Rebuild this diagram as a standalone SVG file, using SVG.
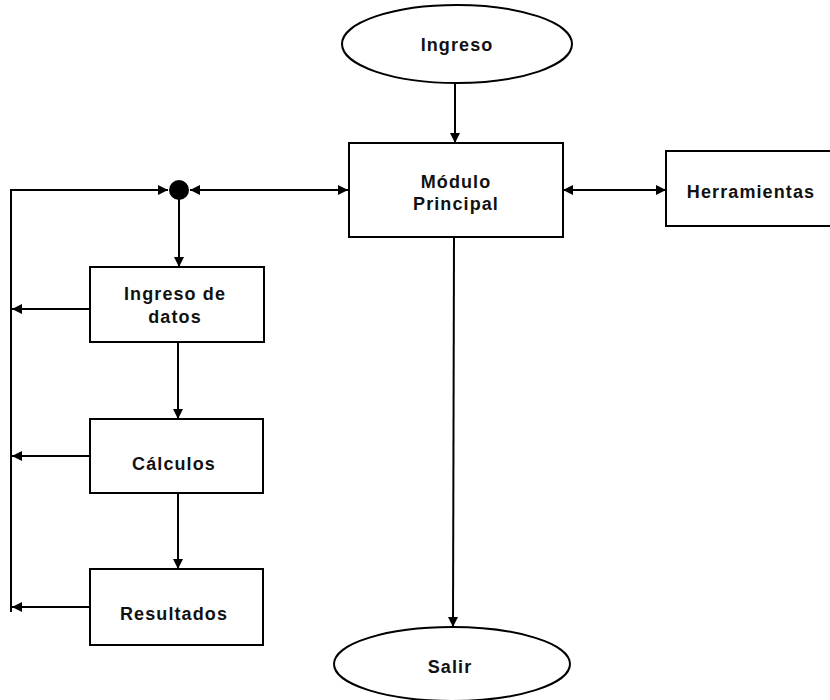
<svg xmlns="http://www.w3.org/2000/svg" width="830" height="700" viewBox="0 0 830 700">
  <defs>
    <marker id="arrow" markerUnits="userSpaceOnUse" markerWidth="11" markerHeight="11" refX="10" refY="5" orient="auto-start-reverse">
      <path d="M0,0 L10,5 L0,10 z" fill="#000"/>
    </marker>
    <style>
      .shape { fill: #fff; stroke: #000; stroke-width: 2; }
      .line { fill: none; stroke: #000; stroke-width: 2; }
      .lbl { font-family: "Liberation Sans", Arial, sans-serif; font-size: 18px; font-weight: bold; letter-spacing: 1.1px; text-anchor: middle; fill: #111; }
    </style>
  </defs>
  <rect width="830" height="700" fill="#fff"/>

  <!-- connectors -->
  <g id="connectors">
    <line class="line" x1="455" y1="83" x2="455" y2="143" marker-end="url(#arrow)"/>
    <line class="line" x1="563" y1="190" x2="666" y2="190" marker-start="url(#arrow)" marker-end="url(#arrow)"/>
    <line class="line" x1="190" y1="190" x2="348" y2="190" marker-start="url(#arrow)" marker-end="url(#arrow)"/>
    <line class="line" x1="11" y1="190" x2="168" y2="190" marker-end="url(#arrow)"/>
    <line class="line" x1="11" y1="189" x2="11" y2="612"/>
    <line class="line" x1="179" y1="199" x2="179" y2="267" marker-end="url(#arrow)"/>
    <line class="line" x1="90" y1="309" x2="12" y2="309" marker-end="url(#arrow)"/>
    <line class="line" x1="178" y1="342" x2="178" y2="419" marker-end="url(#arrow)"/>
    <line class="line" x1="90" y1="456" x2="12" y2="456" marker-end="url(#arrow)"/>
    <line class="line" x1="178" y1="493" x2="178" y2="569" marker-end="url(#arrow)"/>
    <line class="line" x1="90" y1="607" x2="12" y2="607" marker-end="url(#arrow)"/>
    <line class="line" x1="454" y1="237" x2="453" y2="627" marker-end="url(#arrow)"/>
    <circle id="junction" cx="179" cy="190" r="10" fill="#000"/>
  </g>

  <g id="ingreso">
    <ellipse class="shape" cx="457" cy="44" rx="115" ry="39"/>
    <text class="lbl" x="457" y="51">Ingreso</text>
  </g>

  <g id="modulo-principal">
    <rect class="shape" x="349" y="143" width="214" height="94"/>
    <text class="lbl" x="456" y="188">Módulo</text>
    <text class="lbl" x="456" y="210">Principal</text>
  </g>

  <g id="herramientas">
    <rect class="shape" x="666" y="151" width="180" height="75"/>
    <text class="lbl" x="751" y="198">Herramientas</text>
  </g>

  <g id="ingreso-datos">
    <rect class="shape" x="90" y="267" width="174" height="75"/>
    <text class="lbl" x="175" y="300">Ingreso de</text>
    <text class="lbl" x="175" y="323">datos</text>
  </g>

  <g id="calculos">
    <rect class="shape" x="90" y="419" width="173" height="74"/>
    <text class="lbl" x="174" y="470">Cálculos</text>
  </g>

  <g id="resultados">
    <rect class="shape" x="90" y="569" width="173" height="76"/>
    <text class="lbl" x="174" y="620">Resultados</text>
  </g>

  <g id="salir">
    <ellipse class="shape" cx="452" cy="664" rx="118" ry="37"/>
    <text class="lbl" x="450" y="673">Salir</text>
  </g>
</svg>
